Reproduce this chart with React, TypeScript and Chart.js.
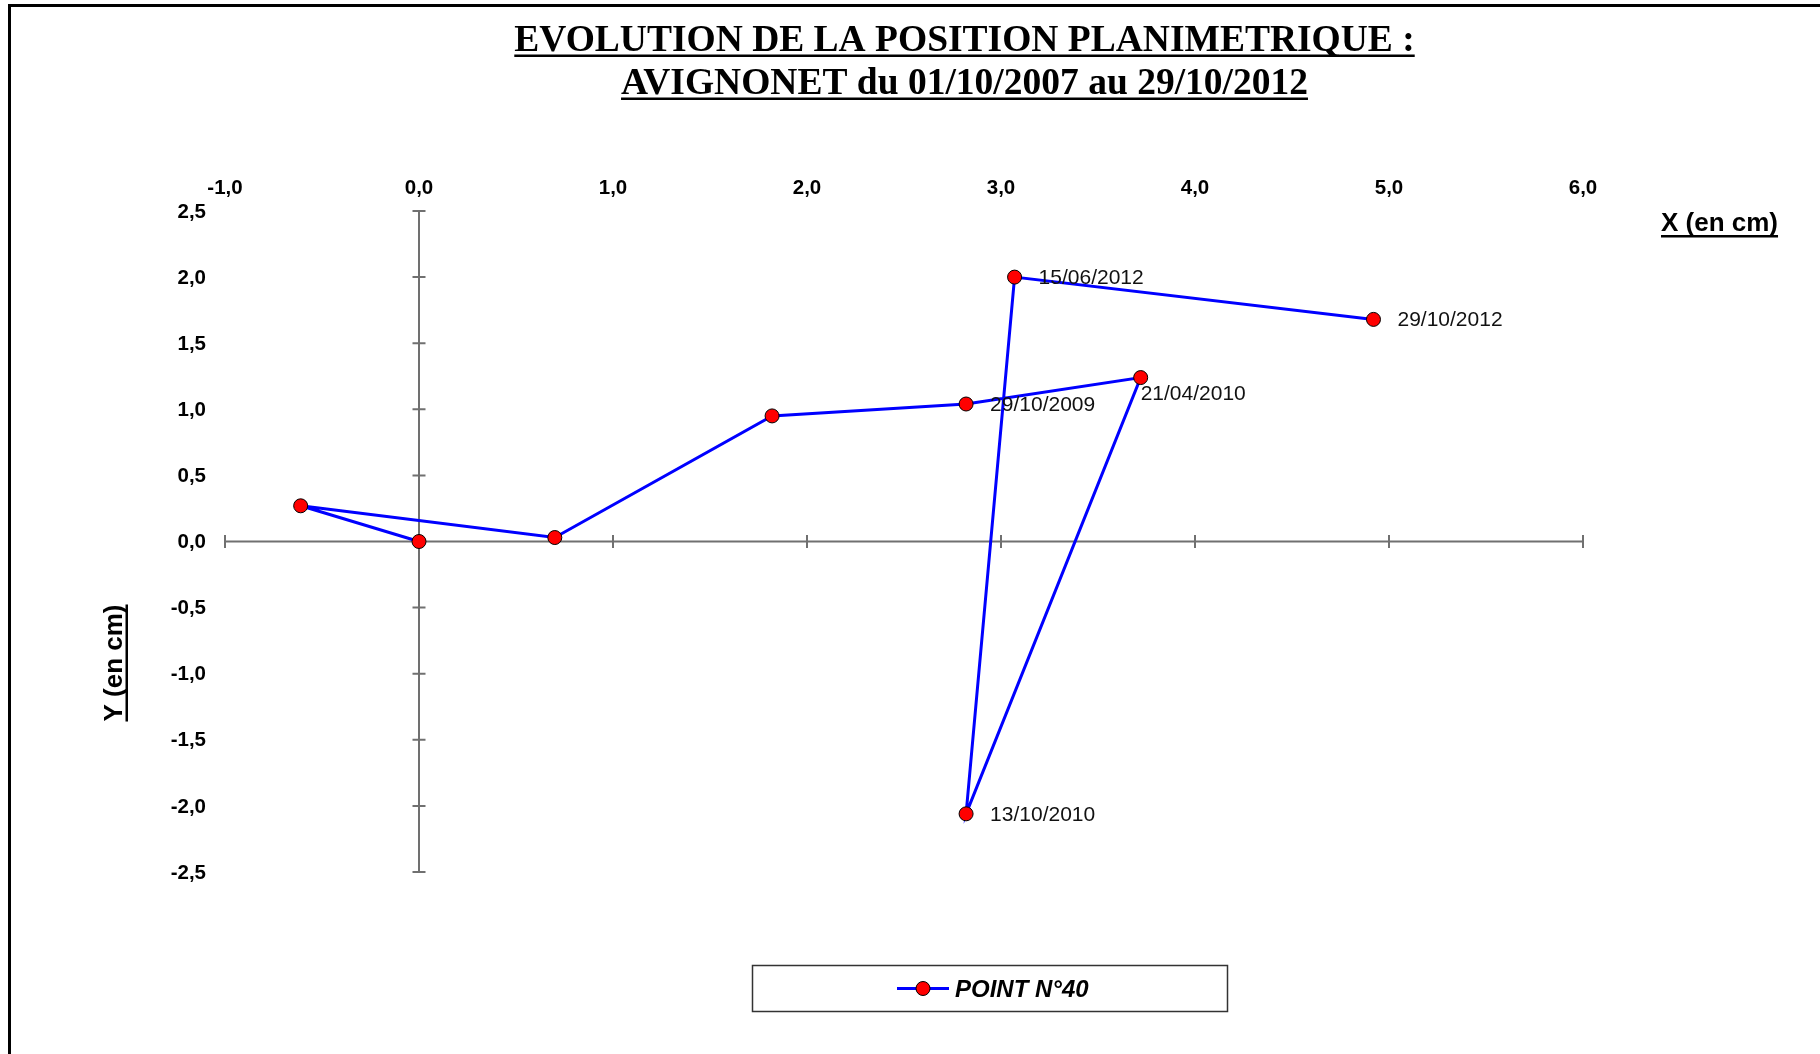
import React, { useEffect, useRef } from 'react';
import { Chart, registerables } from 'chart.js';

Chart.register(...registerables);

// ---- Data ----
const xValues = [0, -0.61, 0.70, 1.82, 2.82, 3.72, 2.82, 3.07, 4.92];
const yValues = [0, 0.27, 0.03, 0.95, 1.04, 1.24, -2.06, 2.00, 1.68];
const pointDates = ['', '', '', '', '29/10/2009', '21/04/2010', '13/10/2010', '15/06/2012', '29/10/2012'];
const labelPlacement = ['right', 'right', 'right', 'right', 'right', 'below', 'right', 'right', 'right'];
const xTickValues = [-1, 0, 1, 2, 3, 4, 5, 6];
const xTickLabels = ['-1,0', '0,0', '1,0', '2,0', '3,0', '4,0', '5,0', '6,0'];
const yTickValues = [2.5, 2, 1.5, 1, 0.5, 0, -0.5, -1, -1.5, -2, -2.5];
const yTickLabels = ['2,5', '2,0', '1,5', '1,0', '0,5', '0,0', '-0,5', '-1,0', '-1,5', '-2,0', '-2,5'];
const titleLines = ['EVOLUTION DE LA POSITION PLANIMETRIQUE :', 'AVIGNONET du 01/10/2007 au 29/10/2012'];
const seriesName = 'POINT N°40';
const xAxisTitle = 'X (en cm)';
const yAxisTitle = 'Y (en cm)';

const SANS = '"Liberation Sans", Arial, sans-serif';
const SERIF = '"Liberation Serif", "Times New Roman", serif';

const decorPlugin = {
  id: 'decor',
  beforeDraw(chart: any) {
    const ctx = chart.ctx;
    const W = chart.width;
    const H = chart.height;
    ctx.save();
    ctx.fillStyle = '#ffffff';
    ctx.fillRect(0, 0, W, H);

    // frame (left + top)
    ctx.strokeStyle = '#000';
    ctx.lineWidth = 3;
    ctx.beginPath();
    ctx.moveTo(9.5, H);
    ctx.lineTo(9.5, 5.5);
    ctx.lineTo(W, 5.5);
    ctx.stroke();

    // title
    ctx.fillStyle = '#000';
    ctx.font = 'bold 37.5px ' + SERIF;
    ctx.textAlign = 'center';
    ctx.textBaseline = 'alphabetic';
    const cx = 964.5;
    const baselines = [50.5, 93.5];
    titleLines.forEach((t, i) => {
      const by = baselines[i];
      ctx.fillText(t, cx, by);
      const w = ctx.measureText(t).width;
      ctx.fillRect(cx - w / 2, by + 4, w, 2.5);
    });

    // X axis title
    ctx.font = 'bold 26px ' + SANS;
    ctx.textAlign = 'left';
    ctx.fillText(xAxisTitle, 1661, 231);
    const xw = ctx.measureText(xAxisTitle).width;
    ctx.fillRect(1661, 235, xw, 2.5);

    // Y axis title (rotated)
    ctx.save();
    ctx.translate(122, 663);
    ctx.rotate(-Math.PI / 2);
    ctx.textAlign = 'center';
    ctx.fillText(yAxisTitle, 0, 0);
    const yw = ctx.measureText(yAxisTitle).width;
    ctx.fillRect(-yw / 2, 3.5, yw, 2.5);
    ctx.restore();

    // legend
    ctx.strokeStyle = '#333';
    ctx.lineWidth = 1.5;
    ctx.strokeRect(752.5, 965.5, 475, 46);
    ctx.strokeStyle = '#0000FF';
    ctx.lineWidth = 3;
    ctx.beginPath();
    ctx.moveTo(897, 988.5);
    ctx.lineTo(949, 988.5);
    ctx.stroke();
    ctx.beginPath();
    ctx.arc(923, 988.5, 7, 0, Math.PI * 2);
    ctx.fillStyle = '#FF0000';
    ctx.fill();
    ctx.strokeStyle = '#000';
    ctx.lineWidth = 1;
    ctx.stroke();
    ctx.fillStyle = '#000';
    ctx.font = 'italic bold 24px ' + SANS;
    ctx.textAlign = 'left';
    ctx.fillText(seriesName, 955, 997);
    ctx.restore();
  },
  beforeDatasetsDraw(chart: any) {
    const ctx = chart.ctx;
    const xs = chart.scales.x;
    const ys = chart.scales.y;
    const area = chart.chartArea;
    const x0 = xs.getPixelForValue(0);
    const y0 = ys.getPixelForValue(0);
    ctx.save();
    ctx.strokeStyle = '#707070';
    ctx.lineWidth = 2;
    ctx.beginPath();
    ctx.moveTo(xs.getPixelForValue(xTickValues[0]), y0);
    ctx.lineTo(xs.getPixelForValue(xTickValues[xTickValues.length - 1]), y0);
    ctx.moveTo(x0, ys.getPixelForValue(yTickValues[0]));
    ctx.lineTo(x0, ys.getPixelForValue(yTickValues[yTickValues.length - 1]));
    xTickValues.forEach((v) => {
      const px = xs.getPixelForValue(v);
      ctx.moveTo(px, y0 - 6.5);
      ctx.lineTo(px, y0 + 6.5);
    });
    yTickValues.forEach((v) => {
      const py = ys.getPixelForValue(v);
      ctx.moveTo(x0 - 6.5, py);
      ctx.lineTo(x0 + 6.5, py);
    });
    ctx.stroke();

    ctx.fillStyle = '#000';
    ctx.font = 'bold 20.5px ' + SANS;
    ctx.textBaseline = 'middle';
    ctx.textAlign = 'center';
    xTickValues.forEach((v, i) => {
      ctx.fillText(xTickLabels[i], xs.getPixelForValue(v), area.top - 23);
    });
    ctx.textAlign = 'right';
    yTickValues.forEach((v, i) => {
      ctx.fillText(yTickLabels[i], area.left - 19, ys.getPixelForValue(v) + 1);
    });
    ctx.restore();
  },
  afterDatasetsDraw(chart: any) {
    const ctx = chart.ctx;
    const meta = chart.getDatasetMeta(0);
    ctx.save();
    ctx.fillStyle = '#111';
    ctx.font = '21px ' + SANS;
    ctx.textBaseline = 'middle';
    ctx.textAlign = 'left';
    pointDates.forEach((d, i) => {
      if (!d) return;
      const el = meta.data[i];
      if (labelPlacement[i] === 'below') {
        ctx.fillText(d, el.x, el.y + 17);
      } else {
        ctx.fillText(d, el.x + 24, el.y + 1);
      }
    });
    ctx.restore();
  },
};

export default function App() {
  const canvasRef = useRef<HTMLCanvasElement | null>(null);

  useEffect(() => {
    const canvas = canvasRef.current;
    if (!canvas) return;
    const data = xValues.map((x, i) => ({ x, y: yValues[i] }));
    const chart = new Chart(canvas, {
      type: 'scatter',
      data: {
        datasets: [
          {
            label: seriesName,
            data,
            showLine: true,
            borderColor: '#0000FF',
            backgroundColor: '#FF0000',
            borderWidth: 3,
            pointBackgroundColor: '#FF0000',
            pointBorderColor: '#000000',
            pointBorderWidth: 1,
            pointRadius: 7,
            pointHoverRadius: 7,
            tension: 0,
            fill: false,
          } as any,
        ],
      },
      options: {
        responsive: false,
        maintainAspectRatio: false,
        animation: false,
        devicePixelRatio: 1,
        events: [],
        layout: { padding: { left: 225, right: 237, top: 211, bottom: 182 } },
        scales: {
          x: { type: 'linear', min: -1, max: 6, display: false },
          y: { type: 'linear', min: -2.5, max: 2.5, display: false },
        },
        plugins: {
          legend: { display: false },
          title: { display: false },
          tooltip: { enabled: false },
        },
      },
      plugins: [decorPlugin],
    });
    return () => chart.destroy();
  }, []);

  return (
    <div style={{ position: 'fixed', left: 0, top: 0, width: 1820, height: 1054, background: '#fff' }}>
      <canvas ref={canvasRef} width={1820} height={1054} style={{ display: 'block' }} />
    </div>
  );
}
